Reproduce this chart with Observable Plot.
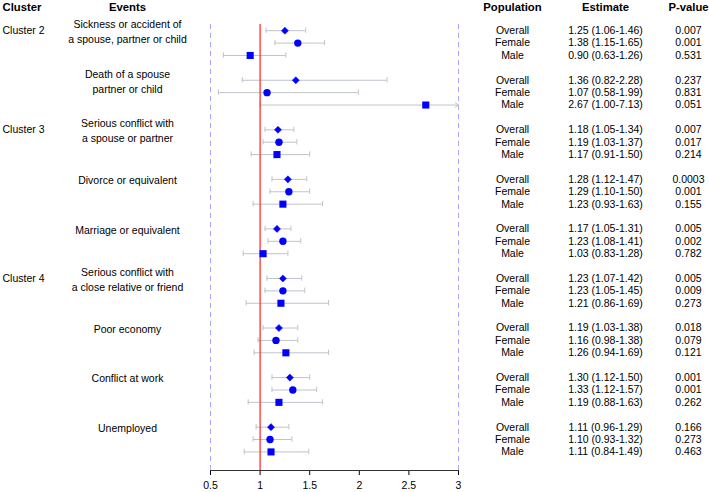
<!DOCTYPE html>
<html>
<head>
<meta charset="utf-8">
<script src="https://cdn.jsdelivr.net/npm/d3@7"></script>
<script src="https://cdn.jsdelivr.net/npm/@observablehq/plot@0.6"></script>
<style>
  html, body { margin: 0; padding: 0; background: #fff; }
  #chart svg { display: block; }
</style>
</head>
<body>
<div id="chart"></div>
<script>
// ---- Data ----
const events = [
  "Sickness or accident of\na spouse, partner or child",
  "Death of a spouse\npartner or child",
  "Serious conflict with\na spouse or partner",
  "Divorce or equivalent",
  "Marriage or equivalent",
  "Serious conflict with\na close relative or friend",
  "Poor economy",
  "Conflict at work",
  "Unemployed"
];
const clusters = ["Cluster 2", "", "Cluster 3", "", "", "Cluster 4", "", "", ""];
const populations = ["Overall", "Female", "Male"];
const estimates = [
  [1.25, 1.38, 0.90], [1.36, 1.07, 2.67], [1.18, 1.19, 1.17],
  [1.28, 1.29, 1.23], [1.17, 1.23, 1.03], [1.23, 1.23, 1.21],
  [1.19, 1.16, 1.26], [1.30, 1.33, 1.19], [1.11, 1.10, 1.11]
];
const lower = [
  [1.06, 1.15, 0.63], [0.82, 0.58, 1.00], [1.05, 1.03, 0.91],
  [1.12, 1.10, 0.93], [1.05, 1.08, 0.83], [1.07, 1.05, 0.86],
  [1.03, 0.98, 0.94], [1.12, 1.12, 0.88], [0.96, 0.93, 0.84]
];
const upper = [
  [1.46, 1.65, 1.26], [2.28, 1.99, 7.13], [1.34, 1.37, 1.50],
  [1.47, 1.50, 1.63], [1.31, 1.41, 1.28], [1.42, 1.45, 1.69],
  [1.38, 1.38, 1.69], [1.50, 1.57, 1.63], [1.29, 1.32, 1.49]
];
const pvalues = [
  ["0.007", "0.001", "0.531"], ["0.237", "0.831", "0.051"], ["0.007", "0.017", "0.214"],
  ["0.0003", "0.001", "0.155"], ["0.005", "0.002", "0.782"], ["0.005", "0.009", "0.273"],
  ["0.018", "0.079", "0.121"], ["0.001", "0.001", "0.262"], ["0.166", "0.273", "0.463"]
];
const headers = ["Cluster", "Events", "Population", "Estimate", "P-value"];
const xDomain = [0.5, 3];
const xTicks = [0.5, 1, 1.5, 2, 2.5, 3];
const refValue = 1;
const symbols = {Overall: "diamond2", Female: "circle", Male: "square"};

// ---- Build table ----
const rows = [];
events.forEach((ev, g) => populations.forEach((p, i) => rows.push({
  g, key: `${g}-${p}`, pop: p,
  est: estimates[g][i], lo: lower[g][i], hi: upper[g][i], pv: pvalues[g][i],
  label: `${estimates[g][i].toFixed(2)} (${lower[g][i].toFixed(2)}-${upper[g][i].toFixed(2)})`
})));
const groups = events.map((ev, g) => ({key: `${g}-Overall`, event: ev, cluster: clusters[g]}));
const yDomain = events.flatMap((_, g) => [...populations, "gap"].map(p => `${g}-${p}`));
const inRange = rows.filter(d => d.hi <= xDomain[1]);
const outRange = rows.filter(d => d.hi > xDomain[1]);

const blue = "#0000ff";
const gray = "#bfc3cb";
const fs = 10.5;

const chart = Plot.plot({
  width: 709,
  height: 492,
  marginLeft: 210,
  marginRight: 251,
  marginTop: 24,
  marginBottom: 22,
  style: {fontFamily: "'Liberation Sans', Arial, sans-serif", fontSize: fs + "px", color: "#000", background: "#fff"},
  x: {domain: xDomain, ticks: xTicks, tickFormat: d => String(d), tickSize: 5, tickPadding: 6, label: null},
  y: {type: "band", domain: yDomain, padding: 0, round: false, axis: null},
  marks: [
    Plot.ruleX(xDomain, {stroke: "#a8a8ff", strokeDasharray: "5,4", strokeWidth: 1}),
    Plot.frame({anchor: "bottom", stroke: "#333"}),
    Plot.ruleY(inRange, {y: "key", x1: "lo", x2: "hi", stroke: gray, strokeWidth: 1}),
    Plot.tickX(rows, {x: "lo", y: "key", stroke: gray, insetTop: 3.5, insetBottom: 3.5}),
    Plot.tickX(inRange, {x: "hi", y: "key", stroke: gray, insetTop: 3.5, insetBottom: 3.5}),
    Plot.arrow(outRange, {x1: "lo", x2: d => Math.min(d.hi, xDomain[1]), y: "key", stroke: gray, strokeWidth: 1, headLength: 6, headAngle: 70}),
    Plot.ruleX([refValue], {stroke: "#ff3030", strokeWidth: 1.3}),
    Plot.dot(rows.filter(d => d.pop === "Overall"), {x: "est", y: "key", symbol: symbols.Overall, r: 3.2, fill: blue, stroke: blue, strokeWidth: 0.5}),
    Plot.dot(rows.filter(d => d.pop === "Female"), {x: "est", y: "key", symbol: symbols.Female, r: 3.7, fill: blue, stroke: "none"}),
    Plot.dot(rows.filter(d => d.pop === "Male"), {x: "est", y: "key", symbol: symbols.Male, r: 4.0, fill: blue, stroke: "none"}),
    // left columns
    Plot.text(groups, {y: "key", text: "cluster", frameAnchor: "left", dx: -208, textAnchor: "start", fill: "#000"}),
    Plot.text(groups, {y: "key", text: "event", frameAnchor: "left", dx: -83, textAnchor: "middle", lineHeight: 1.43, fill: "#000"}),
    // right columns
    Plot.text(rows, {y: "key", text: "pop", frameAnchor: "right", dx: 54, textAnchor: "middle", fill: "#000"}),
    Plot.text(rows, {y: "key", text: "label", frameAnchor: "right", dx: 147, textAnchor: "middle", fill: "#000"}),
    Plot.text(rows, {y: "key", text: "pv", frameAnchor: "right", dx: 230, textAnchor: "middle", fill: "#000"}),
    // headers
    Plot.text([headers[0]], {frameAnchor: "top-left", lineAnchor: "middle", dx: -208, dy: -17, textAnchor: "start", fontWeight: "bold", fontSize: 11.3, fill: "#000"}),
    Plot.text([headers[1]], {frameAnchor: "top-left", lineAnchor: "middle", dx: -83, dy: -17, textAnchor: "middle", fontWeight: "bold", fontSize: 11.3, fill: "#000"}),
    Plot.text([headers[2]], {frameAnchor: "top-right", lineAnchor: "middle", dx: 54, dy: -17, textAnchor: "middle", fontWeight: "bold", fontSize: 11.3, fill: "#000"}),
    Plot.text([headers[3]], {frameAnchor: "top-right", lineAnchor: "middle", dx: 147, dy: -17, textAnchor: "middle", fontWeight: "bold", fontSize: 11.3, fill: "#000"}),
    Plot.text([headers[4]], {frameAnchor: "top-right", lineAnchor: "middle", dx: 230, dy: -17, textAnchor: "middle", fontWeight: "bold", fontSize: 11.3, fill: "#000"})
  ]
});
document.getElementById("chart").appendChild(chart);
</script>
</body>
</html>
